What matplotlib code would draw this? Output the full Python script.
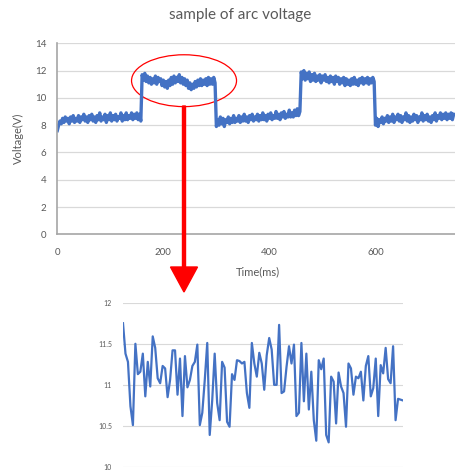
import numpy as np
import matplotlib
matplotlib.use('Agg')
import matplotlib.pyplot as plt
from matplotlib.patches import Ellipse, FancyArrow

plt.rcParams['font.family'] = ['Lato', 'DejaVu Sans']

# --- dados ---
# segmentos do sinal de cima (ms de inicio de cada patamar)
seg_start = [0, 160, 300, 460, 600, 750]

seg_a = [7.6, 8.0, 8.3, 8.1, 8.5, 8.2, 8.6, 8.3, 8.5, 8.1, 8.6, 8.3, 8.7, 8.2, 8.5, 8.3,
         8.7, 8.2, 8.6, 8.4, 8.8, 8.3, 8.6, 8.2, 8.7, 8.4, 8.8, 8.3, 8.6, 8.2, 8.7, 8.4,
         8.9, 8.3, 8.6, 8.4, 8.8, 8.2, 8.7, 8.4, 8.9, 8.3, 8.7, 8.4, 8.8, 8.3, 8.6, 8.5,
         8.9, 8.3, 8.7, 8.4, 8.9, 8.4, 8.7, 8.5, 8.9, 8.4, 8.8, 8.5, 8.9, 8.4, 8.8, 8.3]
seg_b = [11.7, 11.3, 11.8, 11.2, 11.6, 11.1, 11.5, 11.0, 11.4, 11.1, 11.6, 11.0, 11.5, 11.2,
         11.4, 10.9, 11.3, 10.8, 11.2, 10.7, 11.3, 10.9, 11.5, 11.0, 11.6, 11.1, 11.5, 11.2,
         11.7, 11.1, 11.5, 11.0, 11.4, 10.9, 11.3, 10.7, 11.1, 10.6, 11.0, 10.7, 11.2, 10.8,
         11.3, 10.9, 11.4, 10.9, 11.3, 11.0, 11.4, 10.9, 11.5, 11.0, 11.4, 11.0, 11.5, 11.1]
seg_c = [7.9, 8.4, 8.0, 8.6, 8.1, 8.5, 7.9, 8.4, 8.2, 8.6, 8.1, 8.5, 8.2, 8.7, 8.2, 8.5,
         8.3, 8.7, 8.2, 8.6, 8.3, 8.8, 8.3, 8.6, 8.2, 8.7, 8.4, 8.8, 8.3, 8.6, 8.4, 8.8,
         8.3, 8.7, 8.4, 8.9, 8.4, 8.7, 8.3, 8.8, 8.5, 8.9, 8.4, 8.7, 8.5, 9.0, 8.5, 8.8,
         8.4, 8.9, 8.6, 9.0, 8.5, 8.8, 8.6, 9.1, 8.6, 8.9, 8.6, 9.1, 8.7, 9.2, 8.7, 9.0]
seg_d = [11.9, 11.4, 12.0, 11.3, 11.8, 11.4, 11.9, 11.2, 11.7, 11.3, 11.8, 11.2, 11.6, 11.3,
         11.7, 11.1, 11.6, 11.3, 11.7, 11.2, 11.5, 11.1, 11.6, 11.2, 11.5, 11.0, 11.6, 11.2,
         11.5, 11.0, 11.4, 11.1, 11.5, 10.9, 11.4, 11.0, 11.3, 10.9, 11.4, 11.0, 11.5, 11.0,
         11.3, 10.9, 11.4, 11.1, 11.5, 11.0, 11.4, 11.1, 11.5, 11.0, 11.4, 11.1, 11.5, 11.2]
seg_e = [8.0, 8.5, 7.9, 8.4, 8.2, 8.6, 8.1, 8.5, 8.3, 8.7, 8.2, 8.6, 8.3, 8.8, 8.2, 8.6,
         8.4, 8.8, 8.3, 8.7, 8.2, 8.6, 8.4, 8.9, 8.3, 8.7, 8.2, 8.6, 8.3, 8.8, 8.4, 8.7,
         8.2, 8.6, 8.4, 8.9, 8.3, 8.7, 8.4, 8.8, 8.3, 8.6, 8.2, 8.7, 8.4, 8.9, 8.3, 8.7,
         8.5, 8.9, 8.4, 8.8, 8.5, 8.9, 8.4, 8.8, 8.5, 8.9, 8.4, 8.8]
segments = [seg_a, seg_b, seg_c, seg_d, seg_e]

# detalhe (grafico de baixo)
zoom_v = [11.75, 11.38, 11.28, 10.74, 10.51, 11.50, 11.13, 11.16, 11.38, 10.86, 11.28, 10.98,
          11.59, 11.45, 11.08, 11.02, 11.23, 11.20, 10.85, 11.06, 11.42, 11.42, 10.88, 11.32,
          10.62, 11.35, 10.97, 11.06, 11.23, 11.28, 11.49, 10.51, 10.66, 11.06, 11.51, 10.39,
          10.81, 11.38, 10.78, 10.57, 11.28, 11.21, 10.55, 10.49, 11.13, 11.06, 11.30, 11.29,
          11.26, 11.28, 10.90, 10.72, 11.51, 11.26, 11.10, 11.39, 11.26, 10.94, 11.36, 11.57,
          11.43, 11.00, 11.00, 11.73, 10.90, 10.92, 11.22, 11.47, 11.26, 11.49, 10.62, 10.66,
          11.51, 10.80, 11.38, 10.70, 11.16, 10.57, 10.32, 11.30, 11.19, 11.32, 10.39, 10.30,
          11.10, 11.04, 10.53, 11.15, 10.98, 10.90, 10.49, 11.26, 11.20, 10.88, 11.10, 11.08,
          11.16, 10.81, 11.23, 11.35, 10.86, 10.96, 11.32, 10.62, 11.24, 11.14, 11.45, 11.07,
          11.02, 11.47, 10.57, 10.83, 10.82, 10.81]

AZUL = '#4472C4'
CINZA = '#595959'
GRADE = '#D9D9D9'

# --- tempo de cada amostra ---
t_all, v_all = [], []
for i, seg in enumerate(segments):
    dt = (seg_start[i + 1] - seg_start[i]) / len(seg)
    t_all += [seg_start[i] + k * dt for k in range(len(seg))]
    v_all += seg

W, H = 455, 474
fig = plt.figure(figsize=(W / 100, H / 100), dpi=100)

# --- grafico de cima ---
ax = fig.add_axes([57.3 / W, 1 - 234.3 / H, (W - 57.3) / W, (234.3 - 43.3) / H])
ax.plot(t_all, v_all, color=AZUL, lw=2.4)
ax.set_xlim(0, 750)
ax.set_ylim(0, 14)
ax.set_yticks(range(0, 15, 2))
ax.set_xticks([0, 200, 400, 600])
ax.grid(axis='y', color=GRADE, lw=0.9)
ax.set_axisbelow(True)
for s in ['top', 'right']:
    ax.spines[s].set_visible(False)
for s in ['left', 'bottom']:
    ax.spines[s].set_color('#A6A6A6')
    ax.spines[s].set_linewidth(1.2)
ax.tick_params(length=0, labelsize=7, labelcolor=CINZA, pad=8)
ax.tick_params(axis='x', pad=10)
ax.set_ylabel('Voltage(V)', fontsize=8, color=CINZA, labelpad=8)
ax.set_xlabel('Time(ms)', fontsize=8, color=CINZA)
ax.xaxis.set_label_coords((258 - 57.3) / (W - 57.3), -(266 - 234.3) / (234.3 - 43.3))
fig.text(240 / W, 1 - 15 / H, 'sample of arc voltage', fontsize=11, color=CINZA,
         ha='center', va='center')

# elipse vermelha destacando o trecho
ax.add_patch(Ellipse((239, 11.26), 198, 3.8, fill=False, ec='red', lw=0.9, clip_on=False))

# --- grafico de baixo (detalhe) ---
ax2 = fig.add_axes([123 / W, 1 - 467 / H, 280 / W, (467 - 302.7) / H])
ax2.plot(range(len(zoom_v)), zoom_v, color=AZUL, lw=1.6)
ax2.set_xlim(0, len(zoom_v) - 1)
ax2.set_ylim(10, 12)
ax2.set_yticks([10, 10.5, 11, 11.5, 12])
ax2.set_yticklabels(['10', '10.5', '11', '11.5', '12'])
ax2.set_xticks([])
ax2.grid(axis='y', color=GRADE, lw=0.8)
ax2.set_axisbelow(True)
for s in ax2.spines.values():
    s.set_visible(False)
ax2.tick_params(length=0, labelsize=5, labelcolor=CINZA, pad=8)

# seta vermelha
fig.add_artist(FancyArrow(184 / W, 1 - 106 / H, 0, -(292 - 106) / H,
                          width=3 / W, head_width=27 / W, head_length=25 / H,
                          length_includes_head=True, color='red', transform=fig.transFigure))

fig.savefig('out.png', dpi=100)
